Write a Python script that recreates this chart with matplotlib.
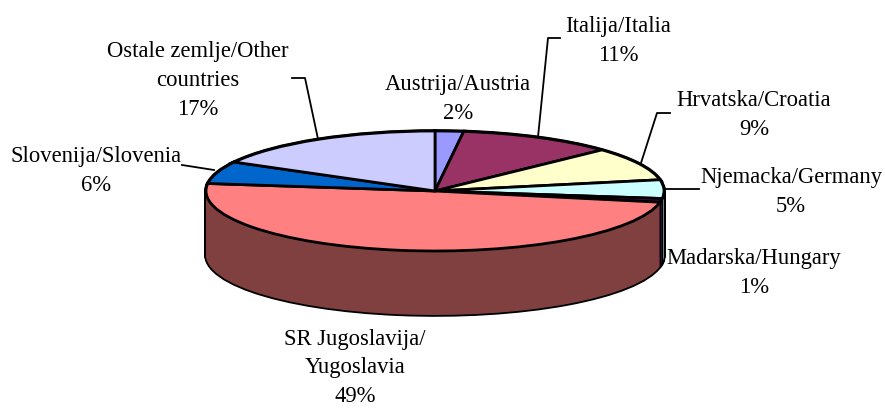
import matplotlib
matplotlib.use('Agg')
import matplotlib.pyplot as plt
import numpy as np

names = ['Austrija/Austria', 'Italija/Italia', 'Hrvatska/Croatia', 'Njemacka/Germany',
         'Madarska/Hungary', 'SR Jugoslavija/\nYugoslavia', 'Slovenija/Slovenia',
         'Ostale zemlje/Other\ncountries']
shares = [2, 11, 9, 5, 1, 49, 6, 17]
top_colors = ['#9999FF', '#993366', '#FFFFCC', '#CCFFFF', '#660066', '#FF8080', '#0066CC', '#CCCCFF']
side_colors = ['#4C4C80', '#4C1A33', '#808066', '#80A8A8', '#330033', '#804040', '#003366', '#666680']

W, H = 885, 408
CX, CY, RX, RY, DEPTH = 435, 191, 229, 60, 64
LINE_STEP = 29

label_pos = [(458, 97.5), (618, 39.5), (754, 113.5), (791, 190.5), (754, 271.5), (355, 366.5), (96, 169.5), (198, 79)]
leaders = [
    [(538, 137), (548, 38), (560, 38)],
    [(641, 163), (657, 113), (670, 113)],
    [(664, 189), (699, 189)],
    [(318, 139), (305, 78), (292, 78)],
    [(214, 170), (182, 165)],
]


def to_data(px, py):
    return (px - CX) / RX, (CY - py) / RY


fig = plt.figure(figsize=(W / 100, H / 100), dpi=100)
ax = fig.add_axes([0, 0, 1, 1])

opts = dict(startangle=90, counterclock=False, radius=1, frame=True)
depth = DEPTH / RY
offsets = np.linspace(depth, 0, DEPTH + 1)

# black silhouette first, then the coloured side on top of it
for d in offsets:
    ax.pie(shares, colors=['black'] * len(shares), center=(0, -d),
           wedgeprops=dict(linewidth=2.6, edgecolor='black'), **opts)
for d in offsets:
    ax.pie(shares, colors=side_colors, center=(0, -d),
           wedgeprops=dict(linewidth=0), **opts)

# seams on the side wall
edges = 90 - np.cumsum(shares) / sum(shares) * 360
for a in edges:
    x, y = np.cos(np.radians(a)), np.sin(np.radians(a))
    if y < 0:
        ax.plot([x, x], [y, y - depth], color='black', lw=1.0)

ax.pie(shares, colors=top_colors, center=(0, 0),
       wedgeprops=dict(linewidth=2.0, edgecolor='black'), **opts)

for pts in leaders:
    xy = np.array([to_data(*p) for p in pts])
    ax.plot(xy[:, 0], xy[:, 1], color='black', lw=1.3, zorder=5)

# one text per line, matplotlib's own line spacing jumps around with font size
for name, share, pos in zip(names, shares, label_pos):
    lines = name.split('\n') + [str(share) + '%']
    for i, line in enumerate(lines):
        py = pos[1] + (i - (len(lines) - 1) / 2) * LINE_STEP + 7
        x, y = to_data(pos[0], py)
        ax.text(x, y, line, ha='center', va='baseline',
                family='Liberation Serif', fontsize=16.3, zorder=6)

x0, _ = to_data(0, 0)
x1, _ = to_data(W, 0)
_, y0 = to_data(0, H)
_, y1 = to_data(0, 0)
ax.set_aspect('auto')
ax.set_xlim(x0, x1)
ax.set_ylim(y0, y1)
ax.axis('off')

fig.savefig('out.png', dpi=100)
